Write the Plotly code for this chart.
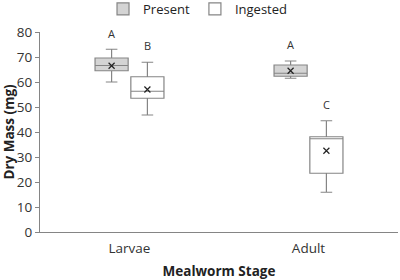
import plotly.graph_objects as go

stages = ["Larvae", "Adult"]
groups = ["Present", "Ingested"]
# per group, per stage
q1 = {"Present": [64.5, 62.3], "Ingested": [53.5, 23.5]}
median = {"Present": [66.6, 63.5], "Ingested": [56.3, 37.3]}
q3 = {"Present": [69.6, 66.8], "Ingested": [62.1, 38.1]}
lower = {"Present": [60.0, 61.5], "Ingested": [46.8, 15.9]}
upper = {"Present": [73.1, 68.4], "Ingested": [67.9, 44.5]}
means = {"Present": [66.5, 64.5], "Ingested": [57.0, 32.5]}
letters = {"Present": ["A", "A"], "Ingested": ["B", "C"]}
letter_y = {"Present": [79.5, 75.2], "Ingested": [74.5, 51.0]}

fills = {"Present": "#d4d4d4", "Ingested": "#ffffff"}
offsets = {"Present": -0.1, "Ingested": 0.1}
line_col = "#858585"

fig = go.Figure()
for g in groups:
    xs = [i + offsets[g] for i in range(len(stages))]
    fig.add_trace(go.Box(
        name=g, x=xs, q1=q1[g], median=median[g], q3=q3[g],
        lowerfence=lower[g], upperfence=upper[g],
        width=0.185, whiskerwidth=0.35, fillcolor=fills[g],
        line=dict(color=line_col, width=1.2), boxpoints=False,
        hoverinfo="skip",
    ))
for g in groups:
    xs = [i + offsets[g] for i in range(len(stages))]
    fig.add_trace(go.Scatter(
        x=xs, y=means[g], mode="markers", showlegend=False,
        marker=dict(symbol="x-thin-open", size=6, color="#222",
                    line=dict(color="#222", width=1.2)),
    ))
    for i, (t, yy) in enumerate(zip(letters[g], letter_y[g])):
        fig.add_annotation(x=xs[i], y=yy, text=t, showarrow=False,
                           font=dict(size=11, color="#333"))

fig.update_layout(
    width=400, height=280,
    margin=dict(l=40, r=2, t=32, b=48, autoexpand=False),
    paper_bgcolor="white", plot_bgcolor="white",
    font=dict(family="Open Sans", size=13, color="#333"),
    showlegend=True,
    legend=dict(orientation="h", x=0.44, xanchor="center", y=1.19,
                yanchor="top", font=dict(size=13, color="#222"),
                itemwidth=30, tracegroupgap=0, itemclick=False,
                bgcolor="rgba(0,0,0,0)"),
    xaxis=dict(range=[-0.5, 1.5], tickvals=list(range(len(stages))), ticktext=stages,
               showline=True, linecolor=line_col, linewidth=1.2, showgrid=False,
               zeroline=False, ticks="", tickfont=dict(size=13.5, color="#333"),
               ticklabelstandoff=4,
               title=dict(text="<b>Mealworm Stage</b>", font=dict(size=13.5, color="#222"), standoff=10)),
    yaxis=dict(range=[0, 80], dtick=10, showline=True, linecolor=line_col, linewidth=1.2,
               showgrid=False, zeroline=False, ticks="outside", ticklen=4, tickcolor=line_col,
               tickfont=dict(size=13.5, color="#333"),
               title=dict(text="<b>Dry Mass (mg)</b>", font=dict(size=13.5, color="#222"), standoff=4)),
)

fig.write_html("out.html", config={"displayModeBar": False},
               post_script="document.body.style.margin='0';")
